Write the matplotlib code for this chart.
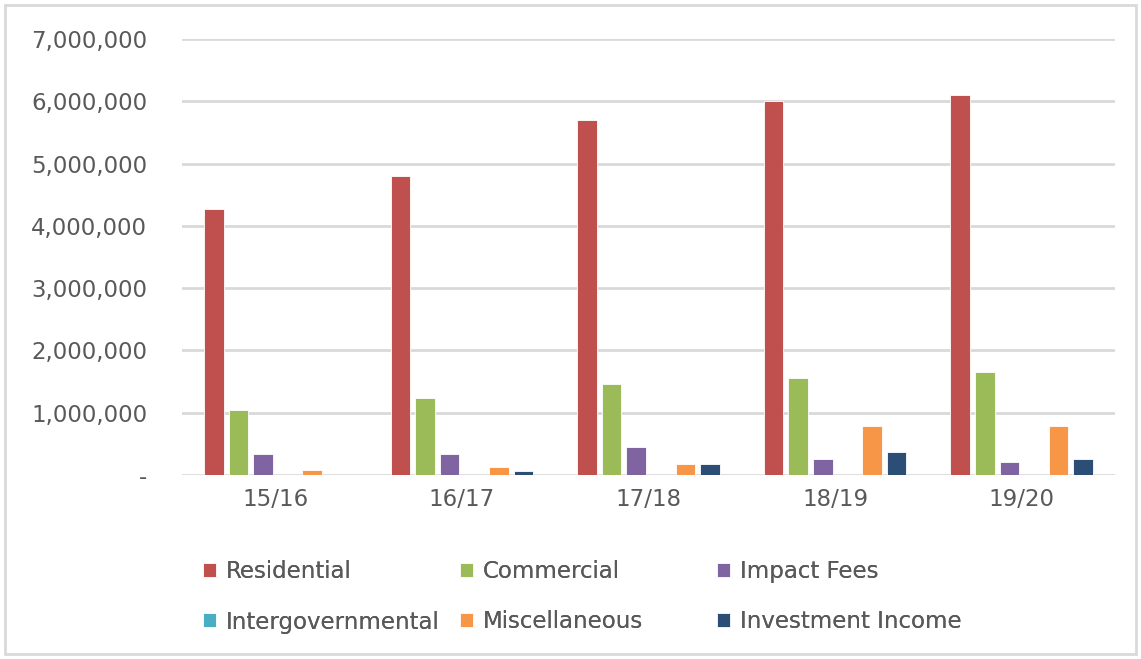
import numpy as np
import matplotlib
matplotlib.use("Agg")
import matplotlib.pyplot as plt
from matplotlib.ticker import FuncFormatter

# ---------data---------
years = ["15/16", "16/17", "17/18", "18/19", "19/20"]
series = ["Residential", "Commercial", "Impact Fees",
          "Intergovernmental", "Miscellaneous", "Investment Income"]
residential = [4270000, 4800000, 5700000, 6000000, 6100000]
commercial = [1040000, 1240000, 1460000, 1560000, 1650000]
impact_fees = [340000, 340000, 450000, 260000, 210000]
intergovernmental = [0, 0, 0, 0, 0]
miscellaneous = [80000, 130000, 180000, 790000, 790000]
investment_income = [0, 60000, 180000, 370000, 260000]
values = [residential, commercial, impact_fees,
          intergovernmental, miscellaneous, investment_income]
colors = ["#c0504d", "#9bbb59", "#8064a2", "#4bacc6", "#f79646", "#2c4d75"]

plt.rcParams['font.family'] = ['DejaVu Sans']
FS = 16.5
GREY = "#595959"

fig = plt.figure(figsize=(11.41, 6.59), dpi=100)
ax = fig.add_axes([182/1141, 1-475/659, (1115-182)/1141, (475-39)/659])

x = np.arange(len(years))
w = 0.105
step = 0.132
handles = []
for i, (name, vals, c) in enumerate(zip(series, values, colors)):
    off = (i - 2.5) * step
    b = ax.bar(x + off, vals, width=w, color=c, label=name,
               edgecolor="white", linewidth=0.6, zorder=3)
    handles.append(b)

ax.set_xlim(-0.5, len(years) - 0.5)
ax.set_ylim(0, 7000000)
ax.set_yticks(np.arange(0, 7000001, 1000000))
ax.yaxis.set_major_formatter(FuncFormatter(lambda v, p: "-" if v == 0 else f"{int(v):,}"))
ax.set_xticks(x)
ax.set_xticklabels(years)
ax.grid(axis="y", color="#d9d9d9", linewidth=2, zorder=0)
for s in ax.spines.values():
    s.set_visible(False)
ax.tick_params(axis="both", length=0, labelsize=FS, colors=GREY)
ax.tick_params(axis="y", pad=25)
ax.tick_params(axis="x", pad=9)

# legend: 3 columns of equal width, like Excel
col_x = [203, 460, 717]
for j in range(3):
    lg = fig.legend([handles[j], handles[j + 3]], [series[j], series[j + 3]],
                    loc="upper left", bbox_to_anchor=(col_x[j]/1141, 1-560/659),
                    frameon=False, fontsize=FS, labelcolor=GREY,
                    handlelength=0.55, handleheight=0.55, handletextpad=0.45,
                    labelspacing=1.2, borderpad=0, borderaxespad=0)
    fig.add_artist(lg)

# light frame round the chart
fig.patches.append(plt.Rectangle((5/1141, 5/659), 1131/1141, 649/659,
                                 transform=fig.transFigure, fill=False,
                                 edgecolor="#d9d9d9", linewidth=2))

fig.savefig("out.png", dpi=100)
